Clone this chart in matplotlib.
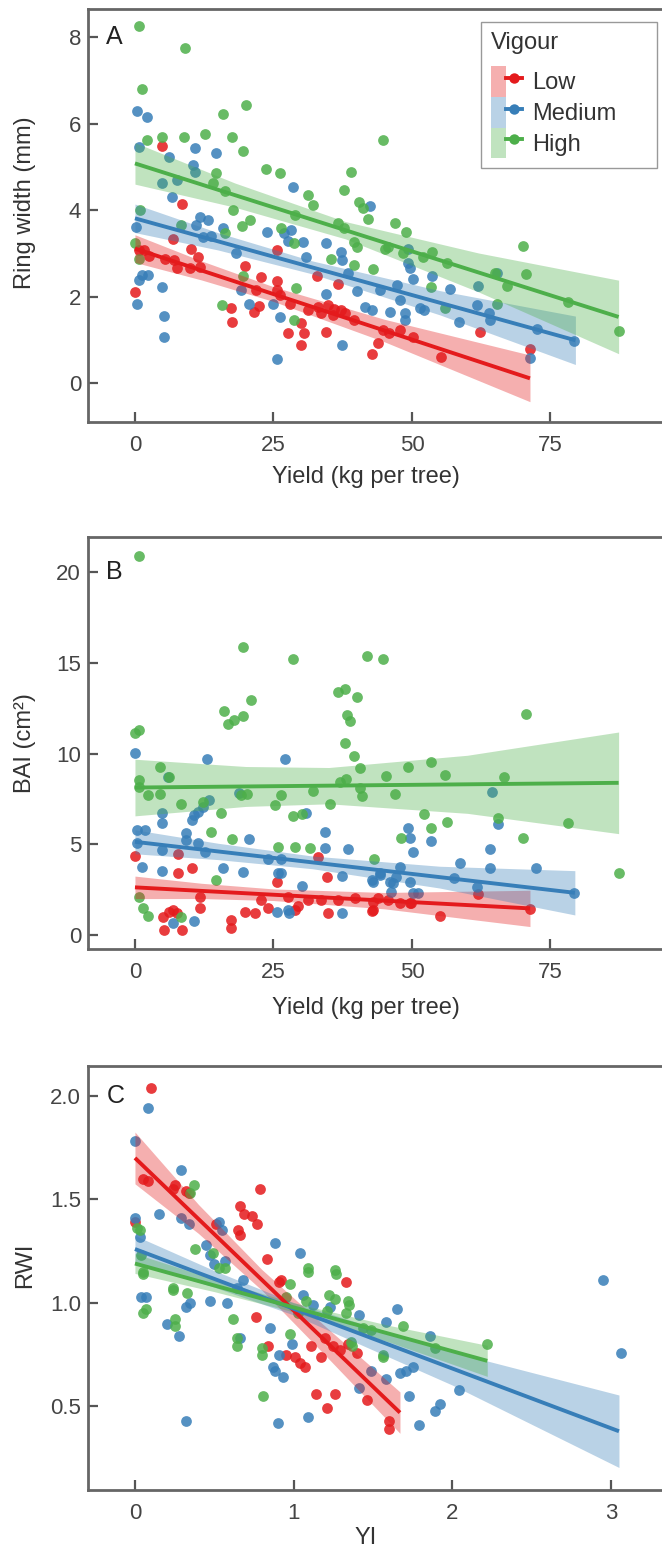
import numpy as np
import matplotlib
matplotlib.use("Agg")
import matplotlib.pyplot as plt
from matplotlib.patches import Patch, Rectangle
from matplotlib.lines import Line2D
from matplotlib.legend_handler import HandlerTuple
import matplotlib.transforms as mtransforms

plt.rcParams['font.family'] = ['Liberation Sans', 'DejaVu Sans']

groups = ['Low', 'Medium', 'High']
colors = {'Low': '#E41A1C', 'Medium': '#377EB8', 'High': '#4DAF4A'}

# ---------------- panel A : ring width vs yield ----------------
a_low = [(4.8,5.48),(8.5,4.14),(0,2.11),(0.8,3.08),(1.7,3.08),(5.4,2.88),(7.6,2.65),(6.9,3.34),
         (10.2,3.11),(11.4,2.92),(11.7,2.69),(9.9,2.65),(19.8,2.71),(22.8,2.46),(17.4,1.73),(17.5,1.42),
         (21.5,1.65),(22.3,1.78),(21.9,2.15),(25.7,2.37),(25.7,2.15),(26.1,2.03),(25.7,3.08),(27.9,1.83),
         (27.6,1.15),(30.0,1.38),(30.6,1.15),(30.0,0.88),(32.9,2.47),(31.2,1.69),(33.6,1.61),(34.8,1.80),
         (35.7,1.57),(36.6,2.30),(34.5,1.19),(39.5,1.46),(42.8,0.67),(43.9,0.92),(44.8,1.23),(37.2,1.69),
         (50.2,1.07),(47.8,1.23),(55.2,0.61),(62.2,1.19),(71.3,0.78),(45.8,1.15),(2.5,2.95),(7.0,2.85),
         (33.0,1.75),(36.0,1.72),(38.0,1.62)]
a_med = [(0.4,6.29),(2.1,6.16),(0.8,5.46),(6.1,5.23),(10.8,5.43),(14.6,5.31),(10.5,5.04),(10.8,4.89),
         (7.5,4.69),(4.8,4.62),(6.7,4.31),(28.5,4.54),(42.5,4.09),(0.1,3.61),(11.7,3.85),(13.2,3.77),
         (11.1,3.65),(12.3,3.37),(13.7,3.40),(15.9,3.58),(18.3,3.01),(23.8,3.50),(26.9,3.46),(28.2,3.54),
         (27.6,3.29),(30.3,3.27),(30.9,2.92),(34.4,3.24),(37.2,3.04),(37.4,2.84),(38.5,2.54),(1.3,2.50),
         (2.4,2.50),(0.8,2.38),(4.9,2.23),(0.4,1.83),(5.2,1.55),(5.2,1.06),(19.1,2.15),(20.5,1.84),
         (24.9,1.83),(26.1,1.53),(25.7,0.55),(34.4,2.06),(40.1,2.13),(41.5,1.76),(42.7,1.69),(44.2,2.15),
         (37.4,0.88),(49.3,3.11),(49.6,2.65),(50.2,2.40),(53.6,2.47),(56.9,2.17),(62.0,2.24),(61.7,1.80),
         (63.9,1.63),(64.1,1.47),(58.5,1.42),(72.5,1.24),(79.2,0.98),(71.3,0.57),(65.3,2.54),(47.8,1.92),
         (48.7,1.61),(51.4,1.73),(49.2,2.77),(47.3,2.27),(46.1,1.65),(48.8,1.46),(52.2,1.69)]
a_high = [(0.7,8.26),(9.0,7.74),(1.3,6.81),(20.0,6.44),(15.9,6.22),(2.1,5.63),(4.8,5.68),(8.8,5.68),
          (12.6,5.77),(17.5,5.70),(19.5,5.37),(23.7,4.94),(26.2,4.85),(14.7,4.85),(14.0,4.63),(16.3,4.45),
          (31.2,4.35),(32.2,4.12),(28.8,3.88),(17.7,4.0),(20.7,3.78),(19.3,3.63),(39.0,4.89),(37.7,4.46),
          (40.4,4.19),(41.2,4.04),(42.0,3.80),(36.6,3.71),(37.8,3.58),(39.6,3.27),(40.1,3.15),(45.1,3.11),
          (44.8,5.62),(35.3,2.87),(39.6,2.73),(43.0,2.63),(0.9,4.0),(0,3.23),(0.7,2.86),(8.4,3.65),
          (19.5,2.47),(29.1,2.21),(15.8,1.80),(28.7,1.47),(26.3,3.58),(28.7,3.23),(16.3,3.48),(49.0,3.50),
          (48.4,3.0),(52.0,2.92),(53.6,3.04),(56.3,2.77),(70.1,3.17),(70.6,2.52),(67.1,2.24),(65.3,1.83),
          (78.2,1.88),(87.4,1.21),(65.0,2.54),(46.9,3.71),(53.4,2.23),(56.0,1.73),(45.6,3.15)]

# fitted lines (end points) and confidence band half-widths
a_fit_x = {'Low': [0, 71.3], 'Medium': [0, 79.5], 'High': [0, 87.3]}
a_fit_y = {'Low': [3.11, 0.11], 'Medium': [3.81, 0.99], 'High': [5.08, 1.53]}
a_band_x = {'Low': [0, 12, 25, 45, 71.3], 'Medium': [0, 15, 32, 55, 79.5], 'High': [0, 18, 38, 62, 87.3]}
a_band_hw = {'Low': [0.32, 0.22, 0.17, 0.26, 0.54], 'Medium': [0.33, 0.20, 0.15, 0.28, 0.56],
             'High': [0.48, 0.28, 0.20, 0.45, 0.85]}

# ---------------- panel B : BAI vs yield ----------------
b_low = [(0,4.35),(7.8,4.46),(10.3,3.67),(7.8,3.40),(5.1,1.01),(5.2,0.28),(8.5,0.28),(6.9,1.38),
         (11.7,2.11),(11.7,1.47),(17.4,0.83),(17.4,0.37),(19.8,1.28),(21.6,1.19),(22.8,1.93),(25.7,2.94),
         (27.6,2.11),(28.8,1.38),(31.2,1.93),(33.0,4.31),(33.6,1.93),(34.7,3.18),(34.8,1.19),(36.6,1.93),
         (39.7,2.02),(43.0,1.38),(43.9,2.02),(45.7,1.93),(47.8,1.75),(49.9,1.75),(43.0,1.83),(42.7,1.34),
         (49.6,1.75),(55.1,1.05),(62.0,2.26),(71.3,1.41),(6.1,1.29),(7.6,1.19),(29.5,1.6),(24.0,1.5)]
b_med = [(0,10.01),(13.0,9.68),(27.0,9.68),(0.4,5.79),(1.9,5.79),(0.4,5.05),(4.9,6.70),(4.9,6.19),
         (6.0,8.69),(9.2,5.60),(10.3,6.34),(10.7,6.61),(11.4,6.80),(12.2,7.07),(13.4,7.44),(9.2,5.23),
         (11.4,5.05),(12.7,4.59),(4.9,4.68),(1.2,3.76),(4.9,3.54),(15.9,3.67),(19.5,3.49),(20.5,5.27),
         (18.7,7.81),(30.9,6.70),(34.3,5.69),(34.3,4.78),(38.5,4.72),(24.0,4.22),(26.3,4.22),(26.3,3.43),
         (30.1,2.70),(37.4,3.25),(42.7,3.03),(44.2,3.40),(47.1,3.21),(49.6,2.94),(49.2,5.88),(49.6,5.33),
         (50.2,4.59),(53.4,5.20),(58.7,3.95),(57.6,3.12),(64.0,4.72),(64.0,3.67),(61.7,2.66),(64.4,7.90),
         (65.6,6.12),(72.4,3.67),(79.3,2.33),(25.6,1.29),(27.8,1.19),(37.4,1.19),(6.9,0.64),(10.7,0.79),
         (25.8,3.40),(46.5,2.85),(51.1,2.30),(27.6,1.38),(43.0,2.94),(44.2,3.31),(46.0,2.94),(46.3,2.39),
         (47.8,3.76),(50.2,2.33)]
b_high = [(0.8,20.88),(19.5,15.89),(28.6,15.19),(41.9,15.37),(44.8,15.22),(0,11.13),(0.8,11.3),
          (16.0,12.36),(16.8,11.63),(17.9,11.85),(19.5,12.07),(21.0,12.95),(36.6,13.41),(38.0,13.54),
          (40.0,13.13),(38.3,12.12),(38.9,11.81),(38.0,10.56),(39.6,9.86),(40.6,9.18),(70.5,12.21),
          (4.6,9.27),(6.1,8.72),(0.8,8.54),(0.8,8.17),(2.3,7.71),(4.6,7.80),(8.4,7.22),(12.2,7.35),
          (19.1,7.71),(20.2,7.80),(25.2,7.16),(26.3,7.71),(32.2,7.95),(35.2,7.22),(37.0,8.45),(38.1,8.58),
          (40.7,8.08),(41.0,7.66),(45.4,8.76),(46.9,7.80),(49.2,9.27),(53.5,9.55),(56.0,8.82),(66.7,8.69),
          (52.2,6.67),(53.4,5.88),(56.4,6.24),(65.6,6.43),(78.1,6.19),(70.1,5.33),(48.0,5.33),(87.3,3.43),
          (15.6,6.70),(13.7,5.69),(17.5,5.27),(25.9,4.83),(28.8,4.83),(31.6,4.78),(28.6,6.56),(30.1,6.67),
          (43.1,4.22),(14.6,3.03),(0.8,2.11),(1.4,1.47),(2.3,1.05),(8.4,1.01)]

b_fit_x = {'Low': [0, 71.3], 'Medium': [0, 79.4], 'High': [0, 87.3]}
b_fit_y = {'Low': [2.63, 1.47], 'Medium': [5.14, 2.33], 'High': [8.13, 8.39]}
b_band_x = {'Low': [0, 12, 25, 45, 71.3], 'Medium': [0, 15, 32, 55, 79.4], 'High': [0, 20, 35, 60, 87.3]}
b_band_hw = {'Low': [0.62, 0.42, 0.32, 0.45, 1.0], 'Medium': [0.66, 0.45, 0.35, 0.60, 1.22],
             'High': [1.56, 1.10, 1.0, 1.6, 2.8]}

# ---------------- panel C : RWI vs YI ----------------
c_low = [(0.10,2.04),(0.0,1.39),(0.05,1.60),(0.08,1.59),(0.24,1.55),(0.25,1.57),(0.32,1.54),(0.34,1.53),
         (0.51,1.38),(0.65,1.35),(0.66,1.33),(0.66,1.47),(0.69,1.43),(0.74,1.42),(0.77,1.38),(0.79,1.55),
         (0.83,1.21),(0.91,1.10),(0.92,1.11),(1.33,1.10),(0.76,0.93),(0.84,0.79),(0.95,0.75),(1.01,0.74),
         (1.04,0.71),(1.07,0.69),(1.11,0.79),(1.17,0.74),(1.25,0.79),(1.29,0.77),(1.40,0.76),(1.14,0.56),
         (1.26,0.56),(1.21,0.49),(1.46,0.53),(1.60,0.39),(1.60,0.43),(1.34,0.80),(1.20,0.83)]
c_med = [(0.08,1.94),(0.0,1.78),(0.29,1.64),(0.0,1.41),(0.03,1.32),(0.15,1.43),(0.53,1.39),(0.55,1.35),
         (0.29,1.41),(0.34,1.38),(0.45,1.28),(0.47,1.23),(0.50,1.19),(0.57,1.20),(0.88,1.29),(1.04,1.24),
         (0.04,1.03),(0.07,1.03),(0.32,0.98),(0.35,1.00),(0.20,0.90),(0.28,0.84),(0.47,1.01),(0.58,1.00),
         (0.68,1.11),(0.64,1.07),(0.85,0.88),(0.66,0.83),(0.91,0.75),(0.87,0.69),(0.93,0.64),(0.99,0.80),
         (0.32,0.43),(0.90,0.42),(1.09,0.45),(1.06,1.04),(1.12,0.99),(1.23,0.98),(1.41,0.94),(1.58,0.91),
         (1.65,0.97),(1.49,0.67),(1.58,0.63),(1.67,0.66),(1.71,0.67),(1.75,0.69),(1.73,0.55),(1.41,0.59),
         (1.79,0.41),(1.89,0.48),(1.92,0.51),(1.86,0.84),(2.04,0.58),(2.95,1.11),(3.06,0.76),(0.88,0.67)]
c_high = [(0.37,1.57),(0.35,1.53),(0.03,1.35),(0.04,1.23),(0.05,1.14),(0.05,0.95),(0.24,1.06),(0.33,1.05),
          (0.38,1.26),(0.49,1.24),(0.57,1.17),(0.25,0.89),(0.62,0.92),(0.64,0.83),(0.64,0.79),(0.80,0.75),
          (0.81,0.55),(1.09,1.15),(1.27,1.14),(1.26,1.02),(1.35,0.99),(1.33,0.95),(0.98,1.09),(0.95,1.03),
          (1.08,1.01),(1.21,0.96),(1.44,0.88),(1.56,0.74),(1.69,0.89),(0.98,0.85),(1.37,0.79),(2.22,0.80),
          (1.49,0.87),(1.89,0.78),(1.56,0.75),(1.36,0.81),(1.26,1.16),(1.09,1.17),(1.34,1.01),(1.22,1.04),
          (0.24,1.07),(0.07,0.97),(0.25,0.92),(0.80,0.78),(1.03,0.95),(0.01,1.36),(0.05,1.15),(0.53,1.17)]

c_fit_x = {'Low': [0, 1.67], 'Medium': [0, 3.05], 'High': [0, 2.22]}
c_fit_y = {'Low': [1.70, 0.47], 'Medium': [1.26, 0.38], 'High': [1.19, 0.72]}
c_band_x = {'Low': [0, 0.4, 0.8, 1.2, 1.67], 'Medium': [0, 0.5, 1.0, 2.0, 3.05], 'High': [0, 0.5, 1.0, 1.6, 2.22]}
c_band_hw = {'Low': [0.125, 0.07, 0.05, 0.07, 0.10], 'Medium': [0.065, 0.04, 0.03, 0.08, 0.175],
             'High': [0.048, 0.03, 0.022, 0.04, 0.075]}

panels = [
    dict(pts={'Low': a_low, 'Medium': a_med, 'High': a_high}, fx=a_fit_x, fy=a_fit_y, bx=a_band_x, bh=a_band_hw,
         xlim=(-8.48, 95.67), ylim=(-0.90, 8.65), xticks=[0, 25, 50, 75], yticks=[0, 2, 4, 6, 8],
         xlabel='Yield (kg per tree)', ylabel='Ring width (mm)', tag='A', tagy=8, yfmt='{:g}',
         rect=[0.1329, 0.7279, 0.8716, 0.2663], xlab_y=-0.133, ylab_y=0.53),
    dict(pts={'Low': b_low, 'Medium': b_med, 'High': b_high}, fx=b_fit_x, fy=b_fit_y, bx=b_band_x, bh=b_band_hw,
         xlim=(-8.48, 95.67), ylim=(-0.77, 21.93), xticks=[0, 25, 50, 75], yticks=[0, 5, 10, 15, 20],
         xlabel='Yield (kg per tree)', ylabel='BAI (cm²)', tag='B', tagy=20, yfmt='{:g}',
         rect=[0.1329, 0.3881, 0.8716, 0.2656], xlab_y=-0.143, ylab_y=0.50),
    dict(pts={'Low': c_low, 'Medium': c_med, 'High': c_high}, fx=c_fit_x, fy=c_fit_y, bx=c_band_x, bh=c_band_hw,
         xlim=(-0.296, 3.34), ylim=(0.096, 2.144), xticks=[0, 1, 2, 3], yticks=[0.5, 1.0, 1.5, 2.0],
         xlabel='YI', ylabel='RWI', tag='C', tagy=2.0, yfmt='{:.1f}',
         rect=[0.1329, 0.0393, 0.8716, 0.2734], xlab_y=-0.113, ylab_y=0.53),
]

fig = plt.figure(figsize=(6.62, 15.51), dpi=100)

for p in panels:
    ax = fig.add_axes(p['rect'])
    for g in groups:
        arr = np.array(p['pts'][g])
        ax.scatter(arr[:, 0], arr[:, 1], s=60, color=colors[g], alpha=0.85, linewidths=0, zorder=2)
    for g in groups:
        bx = np.array(p['bx'][g])
        mid = np.interp(bx, p['fx'][g], p['fy'][g])
        hw = np.array(p['bh'][g])
        ax.fill_between(bx, mid - hw, mid + hw, color=colors[g], alpha=0.35, linewidth=0, zorder=3)
    for g in groups:
        ax.plot(p['fx'][g], p['fy'][g], color=colors[g], lw=2.8, zorder=4, solid_capstyle='butt')

    ax.set_xlim(p['xlim'])
    ax.set_ylim(p['ylim'])
    ax.set_xticks(p['xticks'])
    ax.set_xticklabels([str(t) for t in p['xticks']])
    ax.set_yticks(p['yticks'])
    ax.set_yticklabels([p['yfmt'].format(t) for t in p['yticks']])
    ax.tick_params(direction='in', length=7, width=1.6, color='#555555', labelsize=16,
                   labelcolor='#444444')
    ax.tick_params(axis='x', pad=9)
    ax.tick_params(axis='y', pad=5)
    for sp in ax.spines.values():
        sp.set_color('#666666')
        sp.set_linewidth(2.0)

    ax.set_xlabel(p['xlabel'], fontsize=17, color='#333333')
    ax.set_ylabel(p['ylabel'], fontsize=17, color='#333333')
    ax.xaxis.label.set_va('center')
    ax.yaxis.label.set_va('center')
    ax.xaxis.set_label_coords(0.482, p['xlab_y'])
    ax.yaxis.set_label_coords(-0.109, p['ylab_y'])

    trans = mtransforms.blended_transform_factory(ax.transAxes, ax.transData)
    ax.text(0.032, p['tagy'], p['tag'], transform=trans, fontsize=18, color='#222222',
            ha='left', va='center')

    if p['tag'] == 'A':
        handles = [(Patch(facecolor=colors[g], alpha=0.35, linewidth=0),
                    Line2D([], [], color=colors[g], lw=2.8, marker='o', markersize=7.5,
                           markeredgewidth=0))
                   for g in groups]
        # legend frame drawn separately so its width matches the reference box
        ax.add_patch(Rectangle((0.681, 0.615), 0.305, 0.3535, transform=ax.transAxes,
                               fill=True, facecolor='white', edgecolor='#999999',
                               linewidth=1.0, zorder=5))
        leg = ax.legend(handles, groups, handler_map={tuple: HandlerTuple(ndivide=None, pad=0)},
                        title='Vigour', loc='upper left', bbox_to_anchor=(0.681, 0.9685),
                        borderaxespad=0, fontsize=17, title_fontsize=17, frameon=False,
                        handlelength=1.3, handleheight=1.62, labelspacing=0,
                        handletextpad=0.45, borderpad=0.42, alignment='left')
        leg.set_zorder(6)
        leg._legend_box.sep = 9
        for t in leg.get_texts():
            t.set_color('#333333')
        leg.get_title().set_color('#333333')

fig.savefig('out.png', dpi=100)
